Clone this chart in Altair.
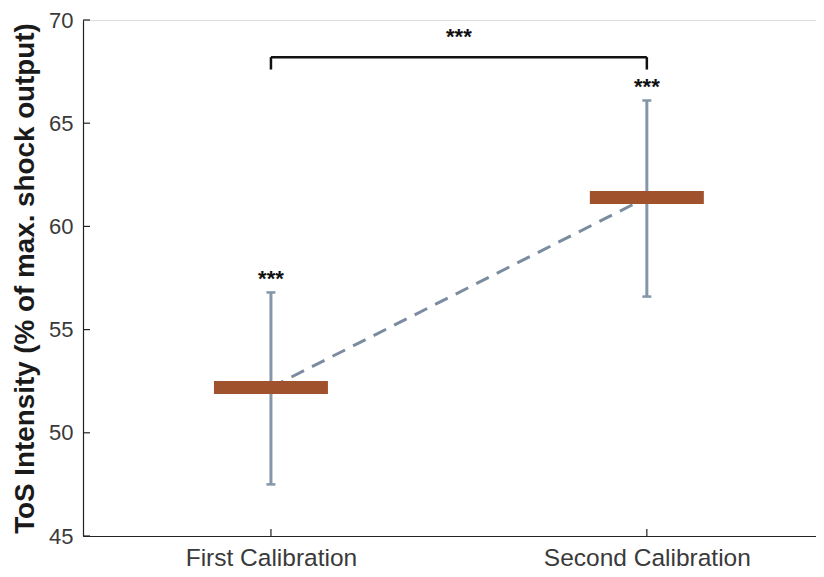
import altair as alt
import pandas as pd

categories = ["First Calibration", "Second Calibration"]
positions = [1, 2]
means = [52.2, 61.4]
err_low = [47.5, 56.6]
err_high = [56.8, 66.1]
sig_labels = ["***", "***"]
bracket_label = "***"
bracket_y = 68.2
bracket_leg = 67.6
yticks = [45, 50, 55, 60, 65, 70]

df = pd.DataFrame({"pos": positions, "cat": categories, "mean": means,
                   "lo": err_low, "hi": err_high, "sig": sig_labels})

label_expr = " : ".join(
    [f"datum.value == {p} ? '{c}'" for p, c in zip(positions, categories)]) + " : ''"

xs = alt.Scale(domain=[0.5, 2.45], nice=False, zero=False)
ys = alt.Scale(domain=[45, 70], nice=False, zero=False)

X = alt.X("pos:Q", scale=xs, axis=alt.Axis(values=positions, labelExpr=label_expr, title=None,
          labelFont="Liberation Sans", labelFontSize=24.5, labelColor="#3a3a3a",
          labelPadding=10, labelLimit=0, labelOverlap=False, domainColor="#222", domainWidth=1.2,
          ticks=False, grid=False))
Y = alt.Y("mean:Q", scale=ys, axis=alt.Axis(values=yticks, title="ToS Intensity (% of max. shock output)",
          titleFont="Liberation Sans", titleFontSize=27.8, titleFontWeight="bold", titleColor="#1a1a1a",
          titlePadding=9, labelFont="Liberation Sans", labelFontSize=22, labelColor="#3a3a3a",
          labelPadding=10, domainColor="#222", domainWidth=1.2, ticks=False, grid=False))

base = alt.Chart(df)

line = base.mark_line(color="#7b8ca0", strokeWidth=3, strokeDash=[14, 9]).encode(x=X, y=Y)
err = base.mark_rule(color="#8496a8", strokeWidth=3).encode(
    x=alt.X("pos:Q", scale=xs), y=alt.Y("lo:Q", scale=ys), y2="hi:Q")
cap_lo = base.mark_tick(color="#8496a8", orient="horizontal", size=9, thickness=2.5, opacity=1).encode(
    x=alt.X("pos:Q", scale=xs), y=alt.Y("lo:Q", scale=ys))
cap_hi = base.mark_tick(color="#8496a8", orient="horizontal", size=9, thickness=2.5, opacity=1).encode(
    x=alt.X("pos:Q", scale=xs), y=alt.Y("hi:Q", scale=ys))
mean_bar = base.mark_tick(color="#a0522d", orient="horizontal", size=114, thickness=13, opacity=1).encode(
    x=alt.X("pos:Q", scale=xs), y=alt.Y("mean:Q", scale=ys))
stars = base.mark_text(font="Liberation Sans", fontSize=22, fontWeight="bold", color="#111",
                       baseline="middle", dy=-13).encode(
    x=alt.X("pos:Q", scale=xs), y=alt.Y("hi:Q", scale=ys), text="sig:N")

# inward axis ticks
ytick_df = pd.DataFrame({"v": yticks})
ytick_rules = alt.Chart(ytick_df).mark_rule(color="#222", strokeWidth=1.2).encode(
    x=alt.value(0), x2=alt.value(7), y=alt.Y("v:Q", scale=ys))
xtick_df = pd.DataFrame({"p": positions})
xtick_rules = alt.Chart(xtick_df).mark_rule(color="#222", strokeWidth=1.2).encode(
    x=alt.X("p:Q", scale=xs), y=alt.value(516), y2=alt.value(509))

br_df = pd.DataFrame({"x1": [positions[0]], "x2": [positions[1]], "y": [bracket_y],
                      "yl": [bracket_leg], "lab": [bracket_label],
                      "xm": [(positions[0] + positions[1]) / 2]})
br_h = alt.Chart(br_df).mark_rule(color="#111", strokeWidth=2.5).encode(
    x=alt.X("x1:Q", scale=xs), x2="x2:Q", y=alt.Y("y:Q", scale=ys))
br_l = alt.Chart(br_df).mark_rule(color="#111", strokeWidth=2.5).encode(
    x=alt.X("x1:Q", scale=xs), y=alt.Y("yl:Q", scale=ys), y2="y:Q")
br_r = alt.Chart(br_df).mark_rule(color="#111", strokeWidth=2.5).encode(
    x=alt.X("x2:Q", scale=xs), y=alt.Y("yl:Q", scale=ys), y2="y:Q")
br_t = alt.Chart(br_df).mark_text(font="Liberation Sans", fontSize=22, fontWeight="bold",
                                  color="#111", baseline="middle", dy=-20).encode(
    x=alt.X("xm:Q", scale=xs), y=alt.Y("y:Q", scale=ys), text="lab:N")

chart = alt.layer(line, err, cap_lo, cap_hi, mean_bar, stars, ytick_rules, xtick_rules,
                  br_h, br_l, br_r, br_t).properties(
    width=733, height=516,
    autosize=alt.AutoSizeParams(type="none"),
    padding={"left": 75, "top": 12, "right": 0, "bottom": 33},
).configure_view(stroke=None).configure(background="white")

chart.save("out.html", embed_options={"renderer": "svg", "actions": False})
